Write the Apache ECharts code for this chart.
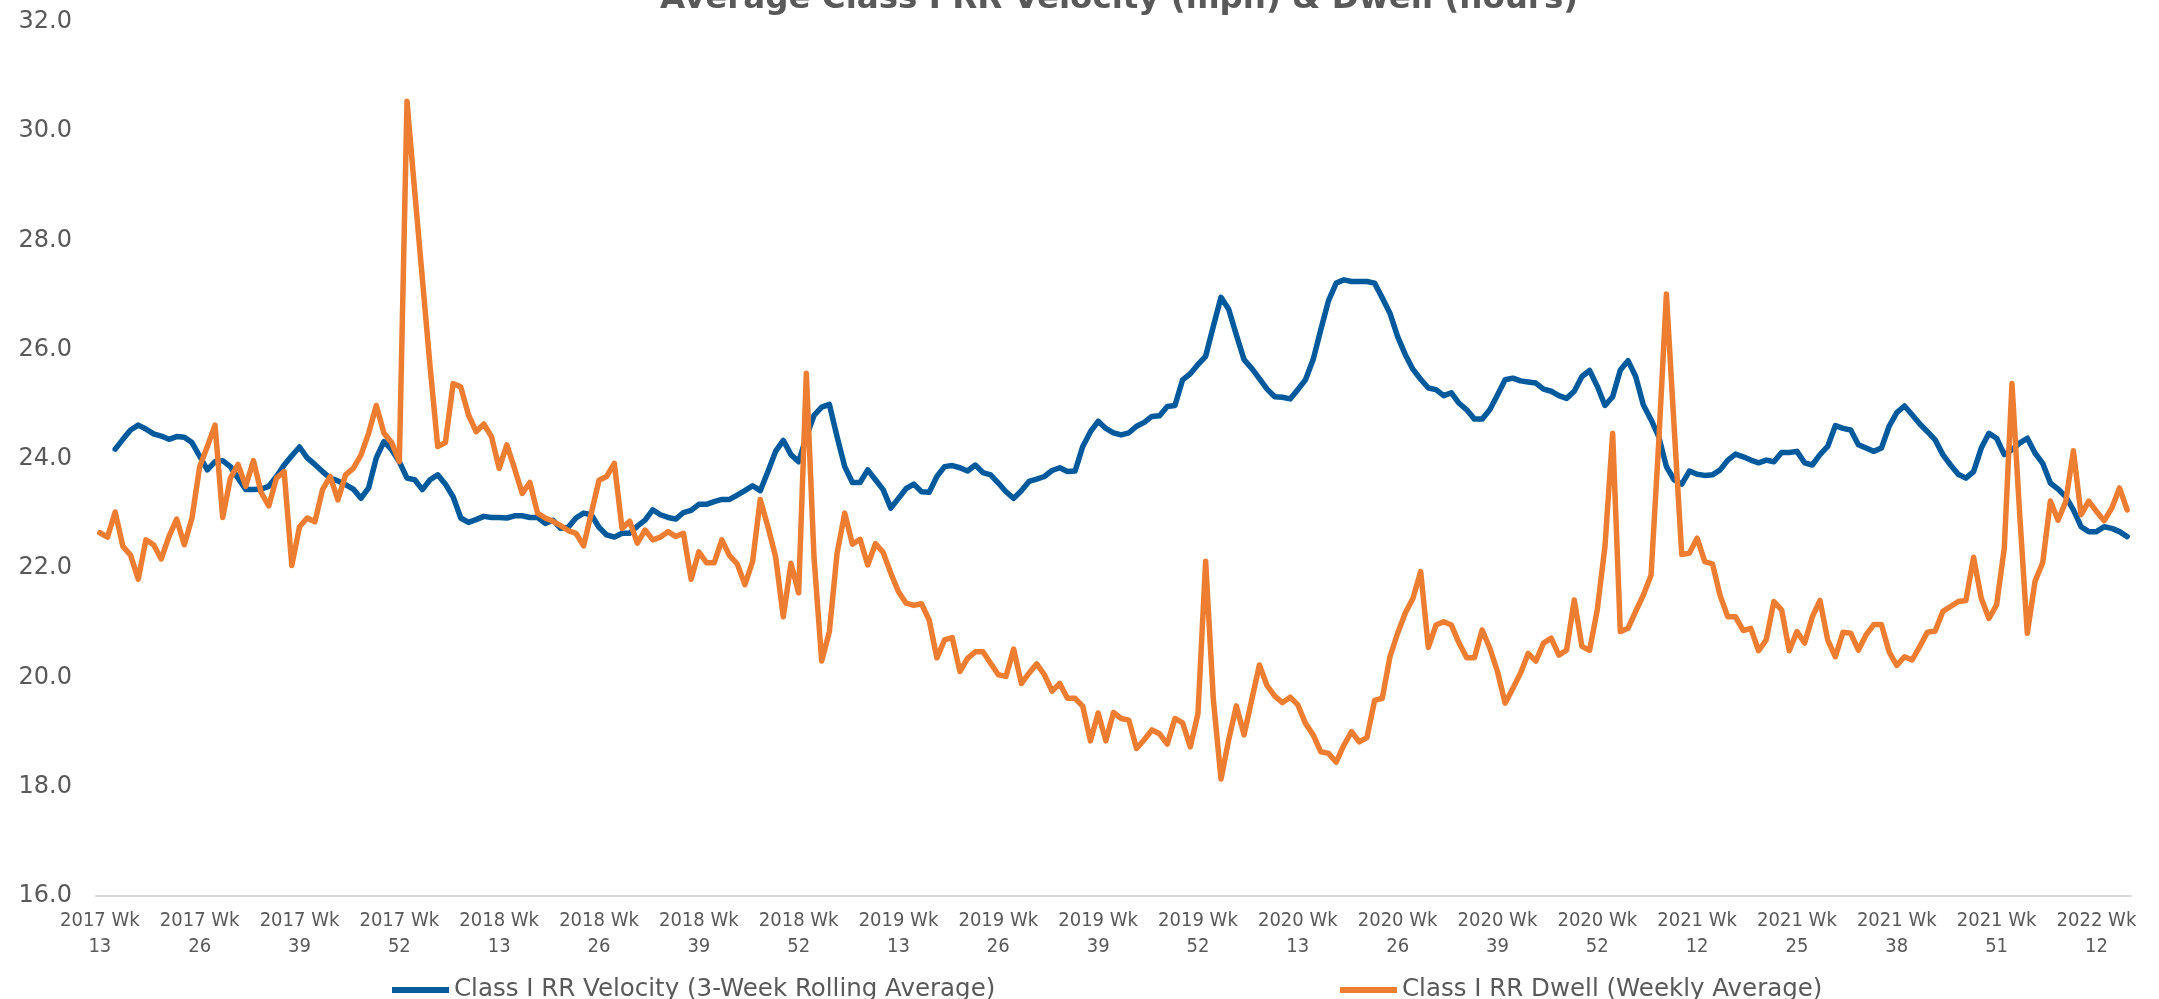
<!DOCTYPE html>
<html>
<head>
<meta charset="utf-8">
<title>Average Class I RR Velocity (mph) &amp; Dwell (hours)</title>
<script src="https://cdn.jsdelivr.net/npm/echarts@6/dist/echarts.min.js"></script>
<style>
  html, body { margin: 0; padding: 0; background: #ffffff; }
  #chart { width: 2159px; height: 999px; }
</style>
</head>
<body>
<div id="chart"></div>
<script>
// Weekly series starting 2017 Wk 13 and running through 2022 Wk 16 (2020 has a week 53).
const START_YEAR = 2017;
const START_WEEK = 13;
const WEEKS_PER_YEAR = { 2017: 52, 2018: 52, 2019: 52, 2020: 53, 2021: 52, 2022: 52 };
const WEEK_COUNT = 265;

const TITLE = 'Average Class I RR Velocity (mph) & Dwell (hours)';
const VELOCITY_NAME = 'Class I RR Velocity (3-Week Rolling Average)';
const DWELL_NAME = 'Class I RR Dwell (Weekly Average)';

// Y axis ticks
const Y_MIN = 16;
const Y_MAX = 32;
const Y_STEP = 2;

// Velocity, mph (3-week rolling average; first two weeks have no average yet)
const velocity = [
  null, null, 24.18, 24.36, 24.53, 24.62, 24.55, 24.46, 24.42, 24.36,
  24.41, 24.40, 24.30, 24.05, 23.80, 23.95, 23.97, 23.86, 23.65, 23.44,
  23.44, 23.45, 23.50, 23.68, 23.89, 24.06, 24.22, 24.02, 23.90, 23.77,
  23.65, 23.60, 23.53, 23.45, 23.28, 23.47, 24.02, 24.32, 24.17, 23.95,
  23.65, 23.62, 23.44, 23.62, 23.71, 23.54, 23.31, 22.92, 22.84, 22.89,
  22.95, 22.93, 22.93, 22.92, 22.96, 22.96, 22.93, 22.93, 22.82, 22.88,
  22.73, 22.75, 22.92, 23.01, 22.98, 22.75, 22.61, 22.57, 22.64, 22.64,
  22.77, 22.88, 23.07, 22.98, 22.93, 22.90, 23.02, 23.06, 23.17, 23.17,
  23.22, 23.26, 23.26, 23.34, 23.42, 23.51, 23.42, 23.77, 24.14, 24.34,
  24.08, 23.95, 24.40, 24.80, 24.95, 25.00, 24.41, 23.86, 23.57, 23.57,
  23.80, 23.62, 23.44, 23.10, 23.28, 23.46, 23.54, 23.40, 23.39, 23.68,
  23.86, 23.88, 23.84, 23.78, 23.89, 23.75, 23.71, 23.56, 23.40, 23.28,
  23.42, 23.59, 23.63, 23.68, 23.79, 23.84, 23.77, 23.78, 24.23, 24.50,
  24.69, 24.56, 24.48, 24.44, 24.48, 24.60, 24.67, 24.78, 24.79, 24.96,
  24.98, 25.45, 25.56, 25.73, 25.88, 26.43, 26.96, 26.74, 26.27, 25.82,
  25.66, 25.47, 25.28, 25.14, 25.13, 25.10, 25.27, 25.45, 25.82, 26.37,
  26.90, 27.22, 27.28, 27.25, 27.25, 27.25, 27.22, 26.95, 26.67, 26.24,
  25.91, 25.64, 25.46, 25.30, 25.27, 25.16, 25.21, 25.02, 24.90, 24.73,
  24.73, 24.90, 25.17, 25.45, 25.48, 25.43, 25.41, 25.39, 25.28, 25.24,
  25.16, 25.11, 25.24, 25.51, 25.62, 25.33, 24.98, 25.14, 25.63, 25.80,
  25.51, 24.99, 24.72, 24.41, 23.86, 23.62, 23.54, 23.78, 23.72, 23.70,
  23.71, 23.80, 23.98, 24.09, 24.04, 23.98, 23.93, 23.98, 23.95, 24.12,
  24.12, 24.14, 23.93, 23.89, 24.08, 24.23, 24.61, 24.56, 24.53, 24.26,
  24.20, 24.14, 24.20, 24.60, 24.85, 24.97, 24.81, 24.64, 24.50, 24.35,
  24.08, 23.89, 23.72, 23.65, 23.77, 24.20, 24.47, 24.38, 24.08, 24.17,
  24.29, 24.38, 24.11, 23.92, 23.56, 23.45, 23.31, 23.07, 22.76, 22.67,
  22.67, 22.76, 22.73, 22.67, 22.58
];

// Dwell, hours (weekly average)
const dwell = [
  22.65, 22.57, 23.03, 22.40, 22.24, 21.80, 22.52, 22.43, 22.17, 22.58,
  22.90, 22.43, 22.92, 23.86, 24.23, 24.62, 22.93, 23.65, 23.90, 23.50,
  23.97, 23.39, 23.14, 23.65, 23.77, 22.05, 22.76, 22.92, 22.85, 23.44,
  23.68, 23.25, 23.71, 23.83, 24.07, 24.47, 24.98, 24.47, 24.30, 23.95,
  30.55, 28.90, 27.30, 25.70, 24.23, 24.30, 25.38, 25.32, 24.81, 24.50,
  24.64, 24.41, 23.83, 24.26, 23.83, 23.37, 23.57, 23.01, 22.92, 22.86,
  22.78, 22.69, 22.64, 22.41, 23.01, 23.61, 23.68, 23.92, 22.73, 22.86,
  22.46, 22.70, 22.52, 22.57, 22.67, 22.58, 22.64, 21.80, 22.30, 22.10,
  22.10, 22.52, 22.23, 22.08, 21.70, 22.12, 23.26, 22.76, 22.21, 21.11,
  22.09, 21.55, 25.57, 22.20, 20.30, 20.84, 22.27, 23.01, 22.44, 22.53,
  22.06, 22.45, 22.29, 21.91, 21.57, 21.36, 21.32, 21.35, 21.05, 20.36,
  20.69, 20.73, 20.11, 20.35, 20.47, 20.47, 20.26, 20.05, 20.02, 20.52,
  19.89, 20.08, 20.25, 20.05, 19.75, 19.89, 19.62, 19.62, 19.47, 18.84,
  19.35, 18.84, 19.36, 19.25, 19.22, 18.70, 18.86, 19.04, 18.97, 18.78,
  19.25, 19.17, 18.73, 19.34, 22.13, 19.60, 18.14, 18.86, 19.48, 18.95,
  19.59, 20.23, 19.85, 19.66, 19.54, 19.64, 19.50, 19.16, 18.95, 18.64,
  18.61, 18.45, 18.76, 19.01, 18.82, 18.90, 19.58, 19.62, 20.38, 20.81,
  21.18, 21.45, 21.94, 20.55, 20.96, 21.02, 20.96, 20.63, 20.36, 20.36,
  20.87, 20.54, 20.11, 19.53, 19.80, 20.08, 20.44, 20.30, 20.63, 20.72,
  20.41, 20.50, 21.42, 20.57, 20.50, 21.24, 22.40, 24.47, 20.84, 20.90,
  21.21, 21.51, 21.87, 24.30, 27.02, 24.60, 22.25, 22.28, 22.55, 22.12,
  22.08, 21.50, 21.11, 21.11, 20.86, 20.90, 20.49, 20.69, 21.39, 21.24,
  20.49, 20.84, 20.63, 21.11, 21.41, 20.69, 20.38, 20.83, 20.81, 20.50,
  20.78, 20.97, 20.97, 20.47, 20.22, 20.38, 20.32, 20.57, 20.83, 20.85,
  21.21, 21.30, 21.39, 21.41, 22.20, 21.45, 21.08, 21.33, 22.37, 25.38,
  23.00, 20.81, 21.76, 22.10, 23.23, 22.88, 23.22, 24.15, 22.98, 23.23,
  23.04, 22.87, 23.10, 23.47, 23.07
];

// Week labels: "2017 Wk 13", "2017 Wk 14", ...
const categories = [];
(function buildWeeks() {
  let year = START_YEAR;
  let week = START_WEEK;
  for (let i = 0; i < WEEK_COUNT; i++) {
    categories.push(year + ' Wk ' + week);
    week++;
    if (week > WEEKS_PER_YEAR[year]) { year++; week = 1; }
  }
})();

const TEXT_GREY = '#595959';
const BLUE = '#005a9c';
const ORANGE = '#ed7d31';

const chart = echarts.init(document.getElementById('chart'), null, { renderer: 'canvas' });

const legendText = { fontFamily: 'DejaVu Sans', fontSize: 24.5, color: TEXT_GREY, lineHeight: 28 };

chart.setOption({
  animation: false,
  backgroundColor: '#ffffff',
  title: {
    text: TITLE,
    left: 655,
    top: -22,
    textStyle: {
      fontFamily: 'DejaVu Sans',
      fontWeight: 'bold',
      fontSize: 32.5,
      color: TEXT_GREY
    }
  },
  grid: { left: 96, right: 28, top: 22, bottom: 103, containLabel: false },
  legend: [
    {
      data: [VELOCITY_NAME],
      left: 387,
      top: 971,
      icon: 'rect',
      itemWidth: 57,
      itemHeight: 6,
      textStyle: legendText
    },
    {
      data: [DWELL_NAME],
      left: 1335,
      top: 971,
      icon: 'rect',
      itemWidth: 57,
      itemHeight: 6,
      textStyle: legendText
    }
  ],
  xAxis: {
    type: 'category',
    data: categories,
    boundaryGap: true,
    axisLine: { show: true, lineStyle: { color: '#d9d9d9', width: 2 } },
    axisTick: { show: false },
    splitLine: { show: false },
    axisLabel: {
      interval: 12,
      hideOverlap: false,
      color: TEXT_GREY,
      fontFamily: "'Liberation Sans Narrow', 'DejaVu Sans Condensed', 'Liberation Sans', sans-serif",
      fontSize: 20,
      lineHeight: 26,
      margin: 12,
      formatter: function (v) { return v.replace(' Wk ', ' Wk\n'); }
    }
  },
  yAxis: {
    type: 'value',
    min: Y_MIN,
    max: Y_MAX,
    interval: Y_STEP,
    axisLine: { show: false },
    axisTick: { show: false },
    splitLine: { show: false },
    axisLabel: {
      color: TEXT_GREY,
      fontFamily: 'DejaVu Sans',
      fontSize: 24,
      margin: 24,
      formatter: function (v) { return v.toFixed(1); }
    }
  },
  series: [
    {
      name: VELOCITY_NAME,
      type: 'line',
      data: velocity,
      showSymbol: false,
      symbol: 'none',
      connectNulls: false,
      itemStyle: { color: BLUE },
      lineStyle: { color: BLUE, width: 5.5, cap: 'round', join: 'round' },
      z: 2
    },
    {
      name: DWELL_NAME,
      type: 'line',
      data: dwell,
      showSymbol: false,
      symbol: 'none',
      itemStyle: { color: ORANGE },
      lineStyle: { color: ORANGE, width: 5.5, cap: 'round', join: 'round' },
      z: 3
    }
  ]
});
</script>
</body>
</html>
